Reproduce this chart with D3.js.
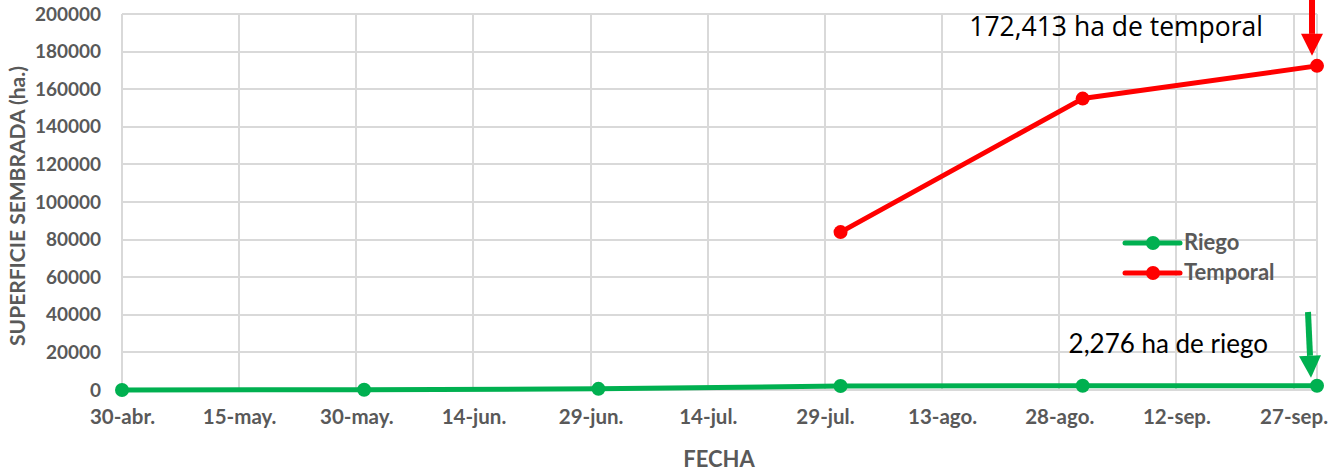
<!DOCTYPE html>
<head>
<meta charset="utf-8">
<title>Superficie sembrada</title>
<script src="https://cdn.jsdelivr.net/npm/d3@7/dist/d3.min.js"></script>
<style>
	body { margin: 0; background: #fff; }
	.axis text {
		font-family: Lato, sans-serif;
		font-weight: bold;
		fill: #595959;
	}
	.axis path { display: none; }
	.axis line { display: none; }
	.grid line { stroke: #d9d9d9; stroke-width: 2; shape-rendering: crispEdges; }
</style>
</head>

<body>
<script>
var width = 1339;
var height = 471;
var margin = {top: 14, bottom: 81, left: 122, right: 22};

// data
var tickDates = ["2023-04-30", "2023-05-15", "2023-05-30", "2023-06-14", "2023-06-29", "2023-07-14",
                 "2023-07-29", "2023-08-13", "2023-08-28", "2023-09-12", "2023-09-27"];
var tickLabels = ["30-abr.", "15-may.", "30-may.", "14-jun.", "29-jun.", "14-jul.",
                  "29-jul.", "13-ago.", "28-ago.", "12-sep.", "27-sep."];
var yTicks = [0, 20000, 40000, 60000, 80000, 100000, 120000, 140000, 160000, 180000, 200000];

var riegoDates = ["2023-04-30", "2023-05-31", "2023-06-30", "2023-07-31", "2023-08-31", "2023-09-30"];
var riegoValues = [0, 150, 600, 2150, 2250, 2276];
var temporalDates = ["2023-07-31", "2023-08-31", "2023-09-30"];
var temporalValues = [84000, 155000, 172413];

var parse = d3.timeParse("%Y-%m-%d");

var svg = d3.select('body').append("svg")
		.attr("width", width)
		.attr("height", height)
		.style("display", "block");

// scales
var xScale = d3.scaleTime()
	.domain([parse("2023-04-30"), parse("2023-09-30")])
	.range([margin.left, width - margin.right]);
var yScale = d3.scaleLinear()
	.domain([0, 200000])
	.range([height - margin.bottom, margin.top]);

// grid
var grid = svg.append("g").attr("class", "grid");
grid.selectAll(".h").data(yTicks).enter().append("line")
	.attr("x1", margin.left).attr("x2", width - margin.right)
	.attr("y1", function(d) { return yScale(d); })
	.attr("y2", function(d) { return yScale(d); });
grid.selectAll(".v").data(tickDates.concat(["2023-09-30"])).enter().append("line")
	.attr("x1", function(d) { return xScale(parse(d)); })
	.attr("x2", function(d) { return xScale(parse(d)); })
	.attr("y1", margin.top).attr("y2", height - margin.bottom);

// axes
var xAxis = d3.axisBottom(xScale)
	.tickValues(tickDates.map(parse))
	.tickFormat(function(d, i) { return tickLabels[i]; })
	.tickSize(0).tickPadding(19);
svg.append("g").attr("class", "axis")
	.attr("transform", "translate(0," + (height - margin.bottom) + ")")
	.call(xAxis)
	.selectAll("text").style("font-size", "20.5px");

var yAxis = d3.axisLeft(yScale).tickValues(yTicks).tickFormat(d3.format("d"))
	.tickSize(0).tickPadding(21);
svg.append("g").attr("class", "axis")
	.attr("transform", "translate(" + margin.left + ",0)")
	.call(yAxis)
	.selectAll("text").style("font-size", "19px");

// axis titles
svg.append("text")
	.attr("transform", "translate(25," + (yScale(100000) + 4) + ") rotate(-90)")
	.attr("text-anchor", "middle")
	.style("font", "bold 21px Lato, sans-serif")
	.style("fill", "#595959")
	.text("SUPERFICIE SEMBRADA (ha.)");
svg.append("text")
	.attr("x", 719).attr("y", 467)
	.attr("text-anchor", "middle")
	.style("font", "bold 22px Lato, sans-serif")
	.style("fill", "#595959")
	.text("FECHA");

// series
var line = d3.line()
	.x(function(d) { return xScale(d[0]); })
	.y(function(d) { return yScale(d[1]); });

var series = [
	{name: "Riego", color: "#00b050", points: riegoDates.map(function(d, i) { return [parse(d), riegoValues[i]]; })},
	{name: "Temporal", color: "#ff0000", points: temporalDates.map(function(d, i) { return [parse(d), temporalValues[i]]; })}
];

series.forEach(function(s) {
	svg.append("path")
		.datum(s.points)
		.attr("d", line)
		.attr("fill", "none")
		.attr("stroke", s.color)
		.attr("stroke-width", 5)
		.attr("stroke-linejoin", "round");
	svg.selectAll(null).data(s.points).enter().append("circle")
		.attr("cx", function(d) { return xScale(d[0]); })
		.attr("cy", function(d) { return yScale(d[1]); })
		.attr("r", 7)
		.attr("fill", s.color);
});

// legend
var legend = svg.append("g").attr("transform", "translate(1125,243)");
series.forEach(function(s, i) {
	var g = legend.append("g").attr("transform", "translate(0," + (i * 30) + ")");
	g.append("line").attr("x1", 0).attr("x2", 55).attr("stroke", s.color).attr("stroke-width", 5).attr("stroke-linecap", "round");
	g.append("circle").attr("cx", 28).attr("r", 7).attr("fill", s.color);
	g.append("text").attr("x", 59).attr("y", 7)
		.style("font", "bold 22px Lato, sans-serif")
		.style("fill", "#595959")
		.text(s.name);
});

// annotations with arrows
function arrow(x0, y0, x1, y1, color) {
	var ang = Math.atan2(y1 - y0, x1 - x0);
	var hl = 22, hw = 11;
	var bx = x1 - hl * Math.cos(ang), by = y1 - hl * Math.sin(ang);
	svg.append("line")
		.attr("x1", x0).attr("y1", y0).attr("x2", bx).attr("y2", by)
		.attr("stroke", color).attr("stroke-width", 6);
	svg.append("path")
		.attr("d", "M" + x1 + "," + y1 +
			"L" + (bx + hw * Math.sin(ang)) + "," + (by - hw * Math.cos(ang)) +
			"L" + (bx - hw * Math.sin(ang)) + "," + (by + hw * Math.cos(ang)) + "Z")
		.attr("fill", color);
}

var lastT = series[1].points[series[1].points.length - 1];
var lastR = series[0].points[series[0].points.length - 1];
arrow(xScale(lastT[0]) - 5, -5, xScale(lastT[0]) - 5, yScale(lastT[1]) - 10, "#ff0000");
arrow(xScale(lastR[0]) - 9, 312, xScale(lastR[0]) - 6, yScale(lastR[1]) - 8, "#00b050");

svg.append("text")
	.attr("x", 1263).attr("y", 36)
	.attr("text-anchor", "end")
	.style("font", "26.5px 'Open Sans', sans-serif")
	.style("fill", "#000")
	.text("172,413 ha de temporal");
svg.append("text")
	.attr("x", 1268).attr("y", 353)
	.attr("text-anchor", "end")
	.style("font", "26px Lato, sans-serif")
	.style("fill", "#000")
	.text("2,276 ha de riego");
</script>
</body>
